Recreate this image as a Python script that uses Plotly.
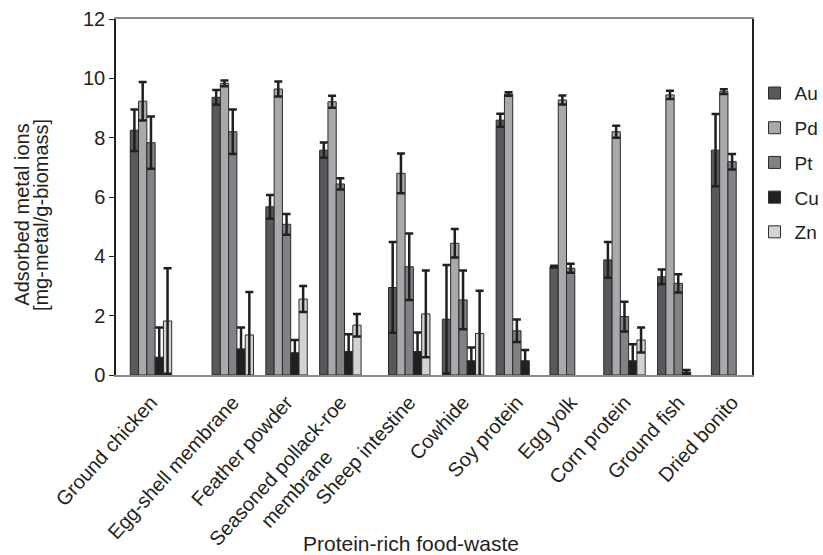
import plotly.graph_objects as go

categories = ["Ground chicken", "Egg-shell membrane", "Feather powder",
              "Seasoned pollack-roe<br>membrane\u00a0\u00a0\u00a0\u00a0\u00a0\u00a0\u00a0\u00a0\u00a0",
              "Sheep intestine", "Cowhide", "Soy protein", "Egg yolk",
              "Corn protein", "Ground fish", "Dried bonito"]
# category positions on the x axis (reference spacing is irregular)
group_pos = [0, 1.52, 2.52, 3.52, 4.8, 5.8, 6.8, 7.8, 8.8, 9.8, 10.8]

metals = ["Au", "Pd", "Pt", "Cu", "Zn"]
Au = [8.25, 9.36, 5.67, 7.58, 2.95, 1.88, 8.59, 3.65, 3.88, 3.31, 7.58]
Au_err = [0.70, 0.25, 0.40, 0.26, 1.53, 1.83, 0.22, 0.03, 0.60, 0.25, 1.22]
Pd = [9.23, 9.83, 9.64, 9.21, 6.80, 4.44, 9.47, 9.27, 8.20, 9.44, 9.55]
Pd_err = [0.65, 0.10, 0.25, 0.20, 0.67, 0.48, 0.06, 0.15, 0.20, 0.14, 0.08]
Pt = [7.83, 8.20, 5.08, 6.44, 3.65, 2.53, 1.49, 3.60, 1.97, 3.09, 7.19]
Pt_err = [0.88, 0.75, 0.35, 0.19, 1.12, 0.99, 0.38, 0.15, 0.50, 0.31, 0.26]
Cu = [0.60, 0.88, 0.75, 0.79, 0.79, 0.48, 0.48, None, 0.48, 0.10, None]
Cu_err = [1.00, 0.72, 0.43, 0.58, 0.64, 0.45, 0.36, None, 0.56, 0.07, None]
Zn = [1.82, 1.35, 2.56, 1.68, 2.06, 1.40, None, None, 1.18, None, None]
Zn_err = [1.78, 1.45, 0.44, 0.38, 1.46, 1.44, None, None, 0.42, None, None]

values = [Au, Pd, Pt, Cu, Zn]
errors = [Au_err, Pd_err, Pt_err, Cu_err, Zn_err]
colors = ["#58595b", "#a7a9ac", "#808285", "#231f20", "#d1d3d4"]

FONT = "Liberation Sans, Arial, Helvetica, sans-serif"
TXT = "#231f20"

fig = go.Figure()
for i, (name, v, e, c) in enumerate(zip(metals, values, errors, colors)):
    fig.add_trace(go.Bar(
        x=group_pos, y=v, name=name, legendgroup=name,
        marker=dict(color=c, line=dict(color="#2b2b2b", width=1)),
        error_y=dict(type="data", array=e, visible=True, color="#231f20",
                     thickness=2.5, width=4),
        cliponaxis=False,
    ))

fig.update_layout(
    width=823, height=555,
    margin=dict(l=116, r=71, t=19, b=180, autoexpand=False),
    paper_bgcolor="white", plot_bgcolor="white",
    barmode="group", bargap=0.23, bargroupgap=0,
    font=dict(family=FONT, size=20, color=TXT),
    showlegend=True,
    legend=dict(x=1.004, xanchor="left", y=0.845, yanchor="top",
                font=dict(size=19, color=TXT), tracegroupgap=7,
                bgcolor="rgba(0,0,0,0)", itemwidth=30),
    xaxis=dict(range=[-0.65, 11.17], tickvals=group_pos, ticktext=categories,
               tickangle=-48, ticklabelstandoff=6, automargin=False,
               showline=True, linecolor="#8a8a8a", linewidth=1.5,
               mirror=True, ticks="", showgrid=False, zeroline=False,
               tickfont=dict(size=20, color=TXT)),
    yaxis=dict(range=[0, 12], tickvals=[0, 2, 4, 6, 8, 10, 12], showline=True,
               automargin=False,
               linecolor="#231f20", linewidth=1.5, mirror=True, ticks="outside",
               ticklen=5, tickcolor="#231f20", showgrid=False, zeroline=False,
               tickfont=dict(size=20, color=TXT)),
)

fig.add_annotation(text="Adsorbed metal ions", xref="paper", yref="paper",
                   x=-0.148, y=0.45, xanchor="center", yanchor="middle",
                   textangle=-90, showarrow=False, font=dict(size=20, color=TXT))
fig.add_annotation(text="[mg-metal/g-biomass]", xref="paper", yref="paper",
                   x=-0.119, y=0.45, xanchor="center", yanchor="middle",
                   textangle=-90, showarrow=False, font=dict(size=20, color=TXT))
fig.add_annotation(text="Protein-rich food-waste", xref="paper", yref="paper",
                   x=0.464, y=-0.472, xanchor="center", yanchor="middle",
                   showarrow=False, font=dict(size=21, color=TXT))

fig.write_html("out.html")
